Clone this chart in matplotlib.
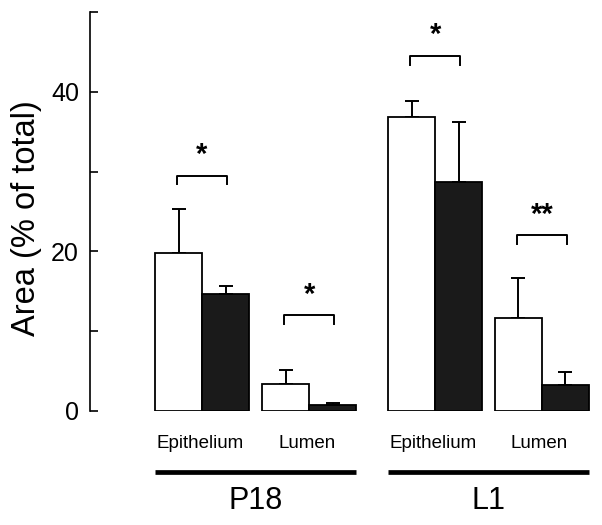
import numpy as np
import matplotlib
matplotlib.use("Agg")
import matplotlib.pyplot as plt
import matplotlib.transforms as mtransforms

plt.rcParams['font.family'] = ['Liberation Sans', 'DejaVu Sans']

# datos
grupos = ["P18", "L1"]
tejidos = ["Epithelium", "Lumen", "Epithelium", "Lumen"]
blanco = [19.8, 3.4, 36.9, 11.6]
blanco_err = [5.5, 1.7, 2.0, 5.1]
negro = [14.6, 0.8, 28.7, 3.2]
negro_err = [1.1, 0.25, 7.5, 1.7]
estrellas = ["*", "*", "*", "**"]
altura_corchete = [29.5, 12.0, 44.5, 22.0]

pos = np.array([0, 2.28, 4.96, 7.23])  # centro de cada par de barras
ancho = 1.0

fig = plt.figure(figsize=(6.02, 5.25), dpi=100)
ax = fig.add_axes([90/602, (525-411)/525, (598-90)/602, (411-12)/525])

ax.bar(pos - ancho/2, blanco, ancho, color="white", edgecolor="black", linewidth=1.3, zorder=2)
ax.bar(pos + ancho/2, negro, ancho, color="#1a1a1a", edgecolor="black", linewidth=1.3, zorder=2)
ax.errorbar(pos - ancho/2, blanco, yerr=[np.zeros(4), blanco_err], fmt="none",
            ecolor="black", elinewidth=1.4, capsize=4.7, capthick=1.4, zorder=1)
ax.errorbar(pos + ancho/2, negro, yerr=[np.zeros(4), negro_err], fmt="none",
            ecolor="black", elinewidth=1.4, capsize=4.7, capthick=1.4, zorder=3)

# corchetes de significancia
for x, h, s in zip(pos, altura_corchete, estrellas):
    ax.plot([x - 0.53, x - 0.53, x + 0.53, x + 0.53], [h - 1.1, h, h, h - 1.1],
            color="black", linewidth=1.4, clip_on=False)
    ax.annotate(s, (x, h), xytext=(0, 9), textcoords="offset points",
                ha="center", va="baseline", fontsize=21, fontweight="bold")

ax.set_xlim((90 - 202) / 47, (598 - 202) / 47)
ax.set_ylim(0, 50)
ax.set_yticks([0, 20, 40])
ax.set_yticks([10, 30, 50], minor=True)
ax.tick_params(axis="y", which="both", direction="in", length=6, width=1.2, pad=8,
               labelsize=18)
ax.set_xticks([])
for lado in ["top", "right", "bottom"]:
    ax.spines[lado].set_visible(False)
ax.spines["left"].set_linewidth(1.2)
ax.spines["left"].set_bounds(0, 50)

fig.text(27/602, 0.585, "Area (% of total)", rotation=90, ha="center", va="center",
         fontsize=23.5)

# etiquetas del eje x
trans = mtransforms.blended_transform_factory(ax.transData, fig.transFigure)
for x, t in zip(pos, tejidos):
    ax.text(x - 0.05, 0.1552, t, transform=trans, ha="center", va="center", fontsize=13.5)
for i, g in enumerate(grupos):
    x0 = pos[2*i] - ancho
    x1 = pos[2*i + 1] + ancho
    ax.plot([x0, x1], [0.1015, 0.1015], transform=trans, color="black",
            linewidth=3.4, clip_on=False, solid_capstyle="butt")
    ax.text((x0 + x1) / 2, 0.045, g, transform=trans, ha="center", va="center", fontsize=22)

fig.savefig("out.png", dpi=100)
